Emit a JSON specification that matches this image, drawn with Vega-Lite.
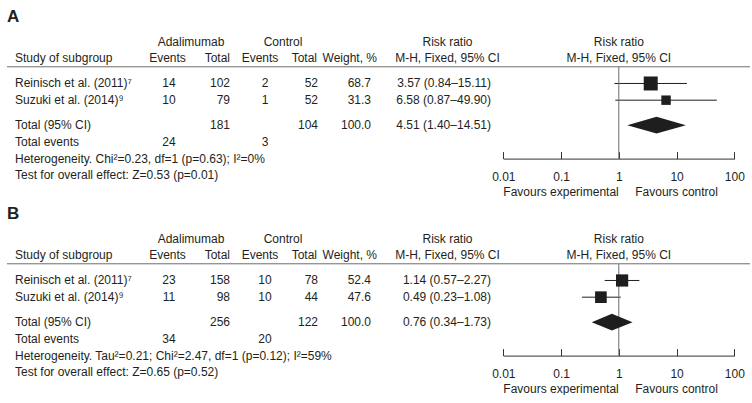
{
  "$schema": "https://vega.github.io/schema/vega-lite/v6.json",
  "padding": 0,
  "background": "white",
  "config": {
    "view": {"stroke": null},
    "text": {"font": "Liberation Sans", "fontSize": 12, "color": "#231f20", "baseline": "middle"},
    "axis": {"title": null, "grid": false}
  },
  "data": {
    "values": [
      {"panel": "A", "kind": "label", "line": "label", "text": "A"},
      {"panel": "A", "kind": "sep", "line": "sep"},
      {"panel": "A", "kind": "head", "line": "h1", "col": "adal", "text": "Adalimumab"},
      {"panel": "A", "kind": "head", "line": "h1", "col": "ctrl", "text": "Control"},
      {"panel": "A", "kind": "head", "line": "h1", "col": "rr", "text": "Risk ratio"},
      {"panel": "A", "kind": "head", "line": "h1", "col": "plot", "text": "Risk ratio"},
      {"panel": "A", "kind": "head", "line": "h2", "col": "study", "text": "Study of subgroup"},
      {"panel": "A", "kind": "head", "line": "h2", "col": "evA", "text": "Events"},
      {"panel": "A", "kind": "head", "line": "h2", "col": "totA", "text": "Total"},
      {"panel": "A", "kind": "head", "line": "h2", "col": "evC", "text": "Events"},
      {"panel": "A", "kind": "head", "line": "h2", "col": "totC", "text": "Total"},
      {"panel": "A", "kind": "head", "line": "h2", "col": "wt", "text": "Weight, %"},
      {"panel": "A", "kind": "head", "line": "h2", "col": "rr", "text": "M-H, Fixed, 95% CI"},
      {"panel": "A", "kind": "head", "line": "h2", "col": "plot", "text": "M-H, Fixed, 95% CI"},
      {"panel": "A", "kind": "study", "line": "s1", "study": "Reinisch et al. (2011)⁷", "ev_a": 14, "tot_a": 102, "ev_c": 2, "tot_c": 52, "weight": 68.7, "rr": 3.57, "lo": 0.84, "hi": 15.11, "ci": "3.57 (0.84–15.11)"},
      {"panel": "A", "kind": "study", "line": "s2", "study": "Suzuki et al. (2014)⁹", "ev_a": 10, "tot_a": 79, "ev_c": 1, "tot_c": 52, "weight": 31.3, "rr": 6.58, "lo": 0.87, "hi": 49.9, "ci": "6.58 (0.87–49.90)"},
      {"panel": "A", "kind": "total", "line": "total", "study": "Total (95% CI)", "tot_a": 181, "tot_c": 104, "weight": 100.0, "ci": "4.51 (1.40–14.51)"},
      {"panel": "A", "kind": "events", "line": "events", "study": "Total events", "ev_a": 24, "ev_c": 3},
      {"panel": "A", "kind": "note", "line": "het", "study": "Heterogeneity. Chi²=0.23, df=1 (p=0.63); I²=0%"},
      {"panel": "A", "kind": "note", "line": "test", "study": "Test for overall effect: Z=0.53 (p=0.01)"},
      {"panel": "A", "kind": "diamond", "line": "d_top", "lo": 4.51, "hi": 4.51},
      {"panel": "A", "kind": "diamond", "line": "total", "lo": 1.40, "hi": 14.51},
      {"panel": "A", "kind": "diamond", "line": "d_bot", "lo": 4.51, "hi": 4.51},
      {"panel": "A", "kind": "fav", "line": "fav", "col": "exp", "text": "Favours experimental"},
      {"panel": "A", "kind": "fav", "line": "fav", "col": "ctl", "text": "Favours control"},

      {"panel": "B", "kind": "label", "line": "label", "text": "B"},
      {"panel": "B", "kind": "sep", "line": "sep"},
      {"panel": "B", "kind": "head", "line": "h1", "col": "adal", "text": "Adalimumab"},
      {"panel": "B", "kind": "head", "line": "h1", "col": "ctrl", "text": "Control"},
      {"panel": "B", "kind": "head", "line": "h1", "col": "rr", "text": "Risk ratio"},
      {"panel": "B", "kind": "head", "line": "h1", "col": "plot", "text": "Risk ratio"},
      {"panel": "B", "kind": "head", "line": "h2", "col": "study", "text": "Study of subgroup"},
      {"panel": "B", "kind": "head", "line": "h2", "col": "evA", "text": "Events"},
      {"panel": "B", "kind": "head", "line": "h2", "col": "totA", "text": "Total"},
      {"panel": "B", "kind": "head", "line": "h2", "col": "evC", "text": "Events"},
      {"panel": "B", "kind": "head", "line": "h2", "col": "totC", "text": "Total"},
      {"panel": "B", "kind": "head", "line": "h2", "col": "wt", "text": "Weight, %"},
      {"panel": "B", "kind": "head", "line": "h2", "col": "rr", "text": "M-H, Fixed, 95% CI"},
      {"panel": "B", "kind": "head", "line": "h2", "col": "plot", "text": "M-H, Fixed, 95% CI"},
      {"panel": "B", "kind": "study", "line": "s1", "study": "Reinisch et al. (2011)⁷", "ev_a": 23, "tot_a": 158, "ev_c": 10, "tot_c": 78, "weight": 52.4, "rr": 1.14, "lo": 0.57, "hi": 2.27, "ci": "1.14 (0.57–2.27)"},
      {"panel": "B", "kind": "study", "line": "s2", "study": "Suzuki et al. (2014)⁹", "ev_a": 11, "tot_a": 98, "ev_c": 10, "tot_c": 44, "weight": 47.6, "rr": 0.49, "lo": 0.23, "hi": 1.08, "ci": "0.49 (0.23–1.08)"},
      {"panel": "B", "kind": "total", "line": "total", "study": "Total (95% CI)", "tot_a": 256, "tot_c": 122, "weight": 100.0, "ci": "0.76 (0.34–1.73)"},
      {"panel": "B", "kind": "events", "line": "events", "study": "Total events", "ev_a": 34, "ev_c": 20},
      {"panel": "B", "kind": "note", "line": "het", "study": "Heterogeneity. Tau²=0.21; Chi²=2.47, df=1 (p=0.12); I²=59%"},
      {"panel": "B", "kind": "note", "line": "test", "study": "Test for overall effect: Z=0.65 (p=0.52)"},
      {"panel": "B", "kind": "diamond", "line": "d_top", "lo": 0.76, "hi": 0.76},
      {"panel": "B", "kind": "diamond", "line": "total", "lo": 0.34, "hi": 1.73},
      {"panel": "B", "kind": "diamond", "line": "d_bot", "lo": 0.76, "hi": 0.76},
      {"panel": "B", "kind": "fav", "line": "fav", "col": "exp", "text": "Favours experimental"},
      {"panel": "B", "kind": "fav", "line": "fav", "col": "ctl", "text": "Favours control"}
    ]
  },
  "facet": {"row": {"field": "panel", "type": "nominal", "header": {"title": null, "labels": false}}},
  "spacing": 5,
  "bounds": "flush",
  "resolve": {"scale": {"x": "independent"}, "axis": {"x": "independent"}},
  "spec": {
    "width": 752,
    "height": 192,
    "encoding": {
      "y": {
        "field": "line", "type": "nominal", "axis": null,
        "scale": {"type": "point", "padding": 0, "domain": ["top", "g1", "label", "g2", "g3", "h1", "g4", "h2", "sep", "g5", "s1", "g6", "s2", "g7", "d_top", "total", "d_bot", "events", "g8", "het", "g9", "test", "g10", "fav"]}
      }
    },
    "resolve": {"scale": {"x": "independent"}},
    "layer": [
      {
        "layer": [
          {"transform": [{"filter": "datum.kind === 'label'"}], "mark": {"type": "text", "align": "left", "fontSize": 17, "fontWeight": "bold"},
           "encoding": {"x": {"datum": 7, "type": "quantitative", "scale": {"domain": [0, 752], "nice": false, "zero": false}, "axis": null}, "text": {"field": "text"}}},
          {"transform": [{"filter": "datum.kind === 'sep'"}], "mark": {"type": "rule", "color": "#6d6d6d", "strokeWidth": 1},
           "encoding": {"x": {"datum": 7, "type": "quantitative", "scale": {"domain": [0, 752], "nice": false, "zero": false}, "axis": null}, "x2": {"datum": 750}}},
          {"transform": [{"filter": "datum.kind === 'head' && datum.col === 'study'"}], "mark": {"type": "text", "align": "left"},
           "encoding": {"x": {"datum": 15, "type": "quantitative", "scale": {"domain": [0, 752], "nice": false, "zero": false}, "axis": null}, "text": {"field": "text"}}},
          {"transform": [{"filter": "datum.kind === 'head' && datum.col === 'adal'"}], "mark": {"type": "text", "align": "center"},
           "encoding": {"x": {"datum": 191, "type": "quantitative", "scale": {"domain": [0, 752], "nice": false, "zero": false}, "axis": null}, "text": {"field": "text"}}},
          {"transform": [{"filter": "datum.kind === 'head' && datum.col === 'ctrl'"}], "mark": {"type": "text", "align": "center"},
           "encoding": {"x": {"datum": 283, "type": "quantitative", "scale": {"domain": [0, 752], "nice": false, "zero": false}, "axis": null}, "text": {"field": "text"}}},
          {"transform": [{"filter": "datum.kind === 'head' && datum.col === 'evA'"}], "mark": {"type": "text", "align": "center"},
           "encoding": {"x": {"datum": 167.5, "type": "quantitative", "scale": {"domain": [0, 752], "nice": false, "zero": false}, "axis": null}, "text": {"field": "text"}}},
          {"transform": [{"filter": "datum.kind === 'head' && datum.col === 'totA'"}], "mark": {"type": "text", "align": "right"},
           "encoding": {"x": {"datum": 230, "type": "quantitative", "scale": {"domain": [0, 752], "nice": false, "zero": false}, "axis": null}, "text": {"field": "text"}}},
          {"transform": [{"filter": "datum.kind === 'head' && datum.col === 'evC'"}], "mark": {"type": "text", "align": "center"},
           "encoding": {"x": {"datum": 260, "type": "quantitative", "scale": {"domain": [0, 752], "nice": false, "zero": false}, "axis": null}, "text": {"field": "text"}}},
          {"transform": [{"filter": "datum.kind === 'head' && datum.col === 'totC'"}], "mark": {"type": "text", "align": "right"},
           "encoding": {"x": {"datum": 317, "type": "quantitative", "scale": {"domain": [0, 752], "nice": false, "zero": false}, "axis": null}, "text": {"field": "text"}}},
          {"transform": [{"filter": "datum.kind === 'head' && datum.col === 'wt'"}], "mark": {"type": "text", "align": "right"},
           "encoding": {"x": {"datum": 377, "type": "quantitative", "scale": {"domain": [0, 752], "nice": false, "zero": false}, "axis": null}, "text": {"field": "text"}}},
          {"transform": [{"filter": "datum.kind === 'head' && datum.col === 'rr'"}], "mark": {"type": "text", "align": "center"},
           "encoding": {"x": {"datum": 447.5, "type": "quantitative", "scale": {"domain": [0, 752], "nice": false, "zero": false}, "axis": null}, "text": {"field": "text"}}},
          {"transform": [{"filter": "isValid(datum.study)"}], "mark": {"type": "text", "align": "left"},
           "encoding": {"x": {"datum": 15, "type": "quantitative", "scale": {"domain": [0, 752], "nice": false, "zero": false}, "axis": null}, "text": {"field": "study"}}},
          {"transform": [{"filter": "isValid(datum.ev_a)"}], "mark": {"type": "text", "align": "center"},
           "encoding": {"x": {"datum": 169, "type": "quantitative", "scale": {"domain": [0, 752], "nice": false, "zero": false}, "axis": null}, "text": {"field": "ev_a", "type": "quantitative"}}},
          {"transform": [{"filter": "isValid(datum.tot_a)"}], "mark": {"type": "text", "align": "right"},
           "encoding": {"x": {"datum": 230, "type": "quantitative", "scale": {"domain": [0, 752], "nice": false, "zero": false}, "axis": null}, "text": {"field": "tot_a", "type": "quantitative"}}},
          {"transform": [{"filter": "isValid(datum.ev_c)"}], "mark": {"type": "text", "align": "center"},
           "encoding": {"x": {"datum": 265, "type": "quantitative", "scale": {"domain": [0, 752], "nice": false, "zero": false}, "axis": null}, "text": {"field": "ev_c", "type": "quantitative"}}},
          {"transform": [{"filter": "isValid(datum.tot_c)"}], "mark": {"type": "text", "align": "right"},
           "encoding": {"x": {"datum": 318, "type": "quantitative", "scale": {"domain": [0, 752], "nice": false, "zero": false}, "axis": null}, "text": {"field": "tot_c", "type": "quantitative"}}},
          {"transform": [{"filter": "isValid(datum.weight)"}], "mark": {"type": "text", "align": "right"},
           "encoding": {"x": {"datum": 371, "type": "quantitative", "scale": {"domain": [0, 752], "nice": false, "zero": false}, "axis": null}, "text": {"field": "weight", "type": "quantitative", "format": ".1f"}}},
          {"transform": [{"filter": "isValid(datum.ci)"}], "mark": {"type": "text", "align": "right"},
           "encoding": {"x": {"datum": 491, "type": "quantitative", "scale": {"domain": [0, 752], "nice": false, "zero": false}, "axis": null}, "text": {"field": "ci"}}}
        ]
      },
      {
        "layer": [
          {"transform": [{"filter": "datum.kind === 'study'"}], "mark": {"type": "rule", "color": "#231f20", "strokeWidth": 1},
           "encoding": {
             "x": {"field": "lo", "type": "quantitative", "scale": {"type": "log", "domain": [0.01, 100], "range": [503.3, 734.3], "nice": false},
                   "axis": {"values": [0.01, 0.1, 1, 10, 100], "format": "~g", "title": null, "grid": false, "tickSize": -7, "tickWidth": 1, "tickColor": "#333333", "domainColor": "#333333", "domainWidth": 1, "labelPadding": 24.4, "labelBaseline": "middle", "offset": -33.4, "labelFont": "Liberation Sans", "labelFontSize": 12, "labelColor": "#231f20", "labelFlush": false, "labelOverlap": false, "labelBound": false}},
             "x2": {"field": "hi"}}},
          {"transform": [{"filter": "datum.kind === 'sep'"}], "mark": {"type": "rule", "color": "#6d6d6d", "strokeWidth": 1},
           "encoding": {"x": {"datum": 1, "type": "quantitative"}, "y2": {"datum": "het"}}},
          {"transform": [{"filter": "datum.kind === 'study'"}], "mark": {"type": "point", "shape": "square", "filled": true, "opacity": 1, "color": "#1e1e1e"},
           "encoding": {"x": {"field": "rr", "type": "quantitative"},
                        "size": {"field": "weight", "type": "quantitative", "scale": {"domain": [0, 100], "range": [0, 285]}, "legend": null}}},
          {"transform": [{"filter": "datum.kind === 'diamond'"}], "mark": {"type": "area", "orient": "horizontal", "order": false, "color": "#1e1e1e", "opacity": 1},
           "encoding": {"x": {"field": "lo", "type": "quantitative"}, "x2": {"field": "hi"}}},
          {"transform": [{"filter": "datum.kind === 'head' && datum.col === 'plot'"}], "mark": {"type": "text", "align": "center"},
           "encoding": {"x": {"datum": 1, "type": "quantitative"}, "text": {"field": "text"}}},
          {"transform": [{"filter": "datum.kind === 'fav' && datum.col === 'exp'"}], "mark": {"type": "text", "align": "center"},
           "encoding": {"x": {"datum": 0.1, "type": "quantitative"}, "text": {"field": "text"}}},
          {"transform": [{"filter": "datum.kind === 'fav' && datum.col === 'ctl'"}], "mark": {"type": "text", "align": "center"},
           "encoding": {"x": {"datum": 10, "type": "quantitative"}, "text": {"field": "text"}}}
        ]
      }
    ]
  }
}
